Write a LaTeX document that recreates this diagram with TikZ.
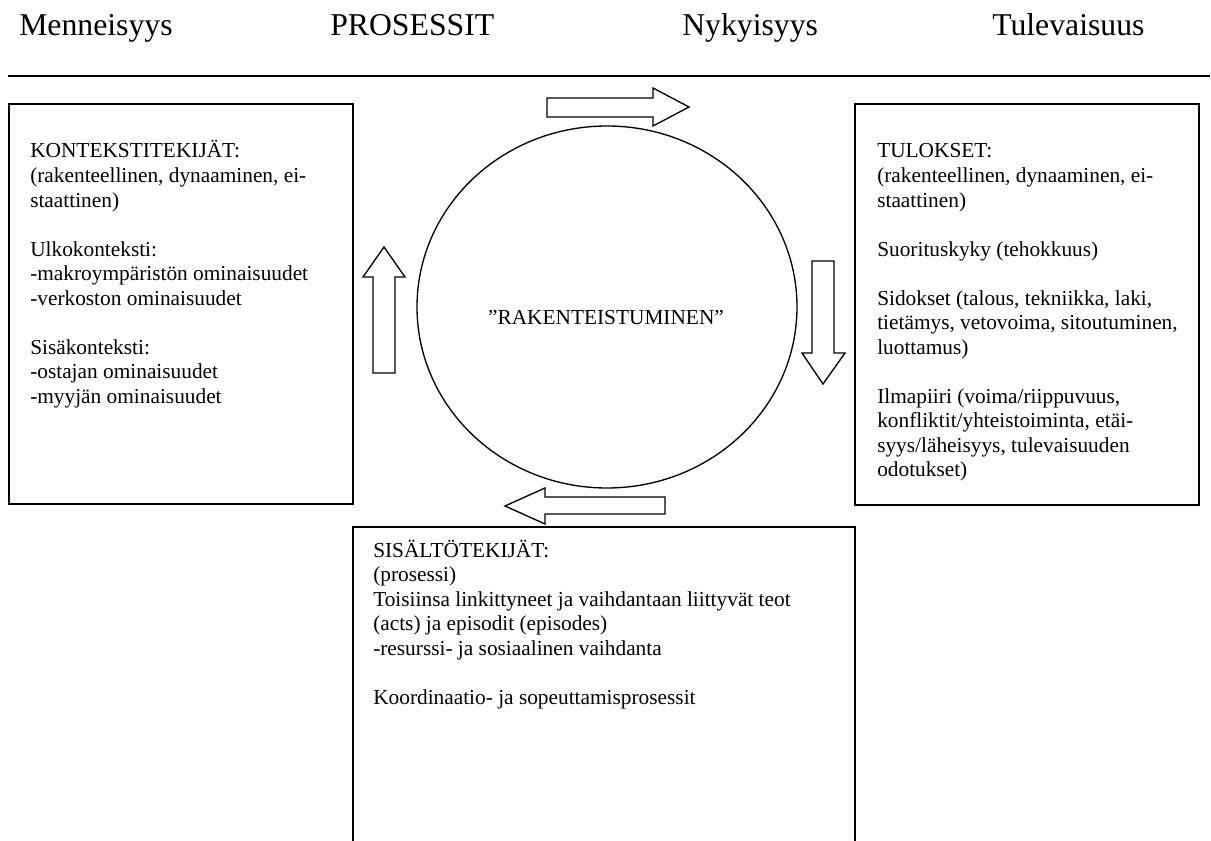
\documentclass[tikz,border=0pt]{standalone}
\usepackage{fontspec}
\setmainfont{Liberation Serif}
\newcommand{\hdrfont}{\fontsize{23.8pt}{28pt}\selectfont}
\newcommand{\txtbody}{\fontsize{16pt}{18.4pt}\selectfont}
\tikzset{
  boxline/.style={draw=black, line width=1.3pt},
  blockarrow/.style={draw=black, line width=1pt, fill=white, line join=miter},
  hdr/.style={anchor=base west, inner sep=0pt, font=\hdrfont},
  bodytext/.style={anchor=base west, inner sep=0pt, font=\txtbody},
}
\begin{document}
\begin{tikzpicture}[x=0.75pt, y=-0.75pt]
\useasboundingbox (0,0) rectangle (1211,841);

% time axis headings and rule
\node[hdr] (past) at (19,36) {Menneisyys};
\node[hdr] (proc) at (330,36) {PROSESSIT};
\node[hdr] (now) at (682,36) {Nykyisyys};
\node[hdr] (future) at (992,36) {Tulevaisuus};
\draw[line width=1.4pt] (8,76) -- (1210,76);

% context factors
\draw[boxline] (9,104) rectangle (353,504);
\node[bodytext] (context) at (30,158) {\begin{tabular}[t]{@{}l@{}}
KONTEKSTITEKIJÄT:\\
(rakenteellinen, dynaaminen, ei-\\
staattinen)\\
\\
Ulkokonteksti:\\
-makroympäristön ominaisuudet\\
-verkoston ominaisuudet\\
\\
Sisäkonteksti:\\
-ostajan ominaisuudet\\
-myyjän ominaisuudet
\end{tabular}};

% outcomes
\draw[boxline] (855,104) rectangle (1199,505);
\node[bodytext] (outcomes) at (877,158) {\begin{tabular}[t]{@{}l@{}}
TULOKSET:\\
(rakenteellinen, dynaaminen, ei-\\
staattinen)\\
\\
Suorituskyky (tehokkuus)\\
\\
Sidokset (talous, tekniikka, laki,\\
tietämys, vetovoima, sitoutuminen,\\
luottamus)\\
\\
Ilmapiiri (voima/riippuvuus,\\
konfliktit/yhteistoiminta, etäi-\\
syys/läheisyys, tulevaisuuden\\
odotukset)
\end{tabular}};

% content factors (open at the bottom edge)
\draw[boxline] (353,845) -- (353,527) -- (855,527) -- (855,845);
\node[bodytext] (content) at (373,557) {\begin{tabular}[t]{@{}l@{}}
SISÄLTÖTEKIJÄT:\\
(prosessi)\\
Toisiinsa linkittyneet ja vaihdantaan liittyvät teot\\
(acts) ja episodit (episodes)\\
-resurssi- ja sosiaalinen vaihdanta\\
\\
Koordinaatio- ja sopeuttamisprosessit
\end{tabular}};

% structuring cycle
\draw[line width=1pt] (607,307) ellipse [x radius=190, y radius=181];
\node[anchor=base, inner sep=0pt, font=\txtbody] (cycle) at (606,325) {”RAKENTEISTUMINEN”};

% block arrows around the cycle
\draw[blockarrow] (547,98) -- (653,98) -- (653,88) -- (689,107) -- (653,126) -- (653,117) -- (547,117) -- cycle;
\draw[blockarrow] (812,261) -- (834,261) -- (834,353) -- (845,353) -- (823,384) -- (802,353) -- (812,353) -- cycle;
\draw[blockarrow] (665,497) -- (665,514) -- (545,514) -- (545,524) -- (505,506) -- (545,488) -- (545,497) -- cycle;
\draw[blockarrow] (373,373) -- (373,277) -- (363,277) -- (384,247) -- (405,277) -- (395,277) -- (395,373) -- cycle;
\end{tikzpicture}
\end{document}
